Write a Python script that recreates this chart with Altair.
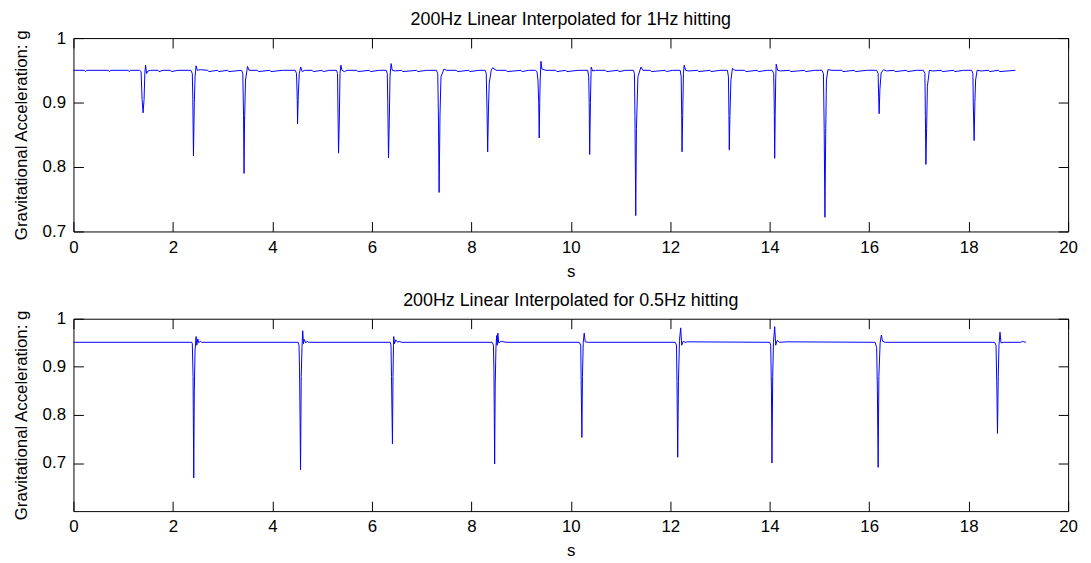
import altair as alt
import pandas as pd

# ---------------- data ----------------
title_top = "200Hz Linear Interpolated for 1Hz hitting"
title_bot = "200Hz Linear Interpolated for 0.5Hz hitting"
x_title = "s"
y_title = "Gravitational Acceleration: g"
x_ticks = [0, 2, 4, 6, 8, 10, 12, 14, 16, 18, 20]
y_ticks = [0.7, 0.8, 0.9, 1.0]

# top panel (1 Hz hitting)
t_top = [0.0, 0.22, 0.24, 0.27, 0.70, 0.72, 0.75, 1.10, 1.12, 1.15,
         1.33, 1.36, 1.38, 1.40, 1.42, 1.435, 1.45, 1.47, 1.50, 1.55, 1.70, 1.72, 1.80, 1.95, 1.97, 2.10,
         2.36, 2.39, 2.40, 2.413, 2.43, 2.445, 2.466, 2.49, 2.55, 2.70, 2.72, 2.90, 2.92, 3.10, 3.12,
         3.38, 3.405, 3.42, 3.43, 3.44, 3.46, 3.50, 3.53, 3.70, 3.72, 3.95, 3.97, 4.20,
         4.46, 4.485, 4.50, 4.506, 4.52, 4.54, 4.57, 4.60, 4.65, 4.80, 4.82, 5.00, 5.02, 5.15,
         5.29, 5.31, 5.32, 5.33, 5.345, 5.36, 5.377, 5.40, 5.45, 5.50, 5.70, 5.72, 5.95, 5.97, 6.15,
         6.29, 6.31, 6.32, 6.335, 6.35, 6.365, 6.387, 6.41, 6.47, 6.60, 6.62, 6.90, 6.92, 7.10,
         7.30, 7.325, 7.34, 7.352, 7.37, 7.39, 7.45, 7.50, 7.70, 7.72, 7.95, 7.97, 8.15,
         8.28, 8.30, 8.315, 8.329, 8.345, 8.36, 8.40, 8.43, 8.50, 8.70, 8.72, 9.00, 9.02, 9.15,
         9.29, 9.32, 9.34, 9.355, 9.365, 9.375, 9.385, 9.40, 9.42, 9.50, 9.70, 9.72, 9.90, 9.92, 10.15,
         10.34, 10.36, 10.37, 10.38, 10.395, 10.41, 10.44, 10.50, 10.70, 10.72, 10.95, 10.97, 11.10,
         11.26, 11.28, 11.29, 11.306, 11.32, 11.35, 11.41, 11.45, 11.60, 11.62, 11.90, 11.92, 12.05,
         12.20, 12.22, 12.23, 12.237, 12.25, 12.265, 12.28, 12.31, 12.37, 12.55, 12.57, 12.80, 12.82, 13.00,
         13.15, 13.17, 13.18, 13.187, 13.20, 13.22, 13.25, 13.30, 13.50, 13.52, 13.75, 13.77, 13.95,
         14.05, 14.08, 14.09, 14.10, 14.11, 14.12, 14.13, 14.16, 14.22, 14.40, 14.42, 14.70, 14.72, 14.90,
         15.05, 15.08, 15.095, 15.11, 15.125, 15.14, 15.17, 15.25, 15.45, 15.47, 15.70, 15.72, 15.95,
         16.15, 16.18, 16.19, 16.20, 16.215, 16.24, 16.29, 16.35, 16.50, 16.52, 16.75, 16.77, 16.95,
         17.09, 17.12, 17.13, 17.14, 17.155, 17.17, 17.21, 17.28, 17.45, 17.47, 17.70, 17.72, 17.90,
         18.06, 18.085, 18.095, 18.11, 18.125, 18.14, 18.17, 18.25, 18.40, 18.42, 18.60, 18.62, 18.94]
v_top = [0.950, 0.950, 0.948, 0.950, 0.950, 0.948, 0.950, 0.950, 0.948, 0.950,
         0.950, 0.948, 0.905, 0.884, 0.905, 0.945, 0.958, 0.945, 0.949, 0.950, 0.950, 0.948, 0.950, 0.950, 0.948, 0.950,
         0.950, 0.945, 0.905, 0.817, 0.900, 0.940, 0.957, 0.950, 0.951, 0.950, 0.948, 0.950, 0.948, 0.950, 0.948,
         0.950, 0.945, 0.880, 0.790, 0.870, 0.935, 0.956, 0.950, 0.950, 0.948, 0.950, 0.948, 0.950,
         0.950, 0.945, 0.905, 0.867, 0.910, 0.945, 0.955, 0.948, 0.950, 0.950, 0.948, 0.950, 0.948, 0.950,
         0.950, 0.945, 0.880, 0.8215, 0.870, 0.945, 0.958, 0.950, 0.948, 0.950, 0.950, 0.948, 0.950, 0.948, 0.950,
         0.950, 0.945, 0.900, 0.814, 0.870, 0.940, 0.9605, 0.950, 0.949, 0.950, 0.948, 0.950, 0.948, 0.950,
         0.950, 0.945, 0.870, 0.7605, 0.880, 0.940, 0.952, 0.950, 0.950, 0.948, 0.950, 0.948, 0.950,
         0.950, 0.945, 0.890, 0.8236, 0.890, 0.930, 0.950, 0.954, 0.950, 0.950, 0.948, 0.950, 0.948, 0.950,
         0.950, 0.948, 0.935, 0.900, 0.845, 0.900, 0.935, 0.964, 0.952, 0.950, 0.950, 0.948, 0.950, 0.948, 0.950,
         0.950, 0.940, 0.900, 0.8195, 0.900, 0.955, 0.949, 0.950, 0.950, 0.948, 0.950, 0.948, 0.950,
         0.950, 0.945, 0.880, 0.7246, 0.860, 0.940, 0.955, 0.950, 0.950, 0.948, 0.950, 0.948, 0.950,
         0.950, 0.940, 0.880, 0.8236, 0.880, 0.945, 0.958, 0.950, 0.949, 0.950, 0.948, 0.950, 0.948, 0.950,
         0.950, 0.940, 0.880, 0.8266, 0.880, 0.935, 0.953, 0.950, 0.950, 0.948, 0.950, 0.948, 0.950,
         0.950, 0.945, 0.900, 0.8134, 0.880, 0.935, 0.9595, 0.950, 0.949, 0.950, 0.948, 0.950, 0.948, 0.950,
         0.950, 0.945, 0.860, 0.722, 0.850, 0.935, 0.951, 0.950, 0.950, 0.948, 0.950, 0.948, 0.950,
         0.950, 0.945, 0.910, 0.8826, 0.920, 0.946, 0.951, 0.949, 0.950, 0.948, 0.950, 0.948, 0.950,
         0.950, 0.945, 0.880, 0.804, 0.860, 0.925, 0.950, 0.949, 0.950, 0.948, 0.950, 0.948, 0.950,
         0.950, 0.945, 0.890, 0.841, 0.900, 0.935, 0.950, 0.949, 0.950, 0.948, 0.950, 0.948, 0.950]

# bottom panel (0.5 Hz hitting)
t_bot = [0.0,
         2.38, 2.39, 2.405, 2.419, 2.43, 2.445, 2.466, 2.48, 2.50, 2.52, 2.55, 2.58,
         4.52, 4.535, 4.545, 4.556, 4.566, 4.58, 4.595, 4.61, 4.625, 4.64, 4.67, 4.70, 4.73,
         6.37, 6.385, 6.395, 6.414, 6.425, 6.435, 6.44, 6.455, 6.48, 6.52, 6.55, 6.60,
         8.42, 8.445, 8.455, 8.469, 8.48, 8.495, 8.51, 8.52, 8.534, 8.55, 8.60, 8.70,
         10.17, 10.20, 10.21, 10.223, 10.235, 10.25, 10.27, 10.29, 10.35,
         12.10, 12.125, 12.135, 12.15, 12.165, 12.185, 12.21, 12.23, 12.26, 12.30, 12.35,
         14.00, 14.02, 14.035, 14.045, 14.06, 14.075, 14.10, 14.12, 14.15, 14.20, 14.35,
         16.12, 16.15, 16.165, 16.18, 16.195, 16.22, 16.245, 16.27, 16.32,
         18.52, 18.55, 18.565, 18.58, 18.595, 18.61, 18.63, 18.65, 18.70,
         19.05, 19.08, 19.15]
v_bot = [0.951,
         0.951, 0.948, 0.880, 0.669, 0.850, 0.935, 0.963, 0.945, 0.958, 0.950, 0.953, 0.951,
         0.951, 0.945, 0.900, 0.800, 0.686, 0.880, 0.940, 0.975, 0.948, 0.957, 0.950, 0.953, 0.951,
         0.951, 0.945, 0.880, 0.740, 0.880, 0.945, 0.963, 0.948, 0.956, 0.951, 0.953, 0.951,
         0.951, 0.945, 0.890, 0.698, 0.860, 0.940, 0.965, 0.945, 0.970, 0.950, 0.953, 0.951,
         0.951, 0.945, 0.860, 0.7532, 0.880, 0.950, 0.970, 0.952, 0.951,
         0.951, 0.945, 0.870, 0.712, 0.870, 0.955, 0.981, 0.945, 0.953, 0.951, 0.952,
         0.951, 0.945, 0.850, 0.700, 0.880, 0.950, 0.9835, 0.945, 0.955, 0.951, 0.952,
         0.951, 0.940, 0.850, 0.691, 0.880, 0.950, 0.966, 0.953, 0.951,
         0.951, 0.945, 0.870, 0.7615, 0.880, 0.945, 0.972, 0.950, 0.951,
         0.951, 0.953, 0.951]

FONT = "Liberation Sans"
INWARD = {"expr": "-10"}


def panel(t, v, title, ydom, h):
    df = pd.DataFrame({"t": t, "v": v})
    base = alt.Chart(df)
    xs = alt.Scale(domain=[0, 20], nice=False, zero=False)
    ys = alt.Scale(domain=ydom, nice=False, zero=False)
    line = base.mark_line(color="#0000FF", strokeWidth=1).encode(
        x=alt.X("t:Q", scale=xs,
                axis=alt.Axis(values=x_ticks, format="d", title=x_title,
                              tickSize=INWARD, labelPadding=18, titlePadding=8)),
        y=alt.Y("v:Q", scale=ys,
                axis=alt.Axis(values=y_ticks, format="~g", title=y_title,
                              tickSize=INWARD, labelPadding=18, titlePadding=12)),
    )
    ghost = base.mark_line(opacity=0).encode(
        x=alt.X("t:Q", scale=xs,
                axis=alt.Axis(orient="top", values=x_ticks, labels=False,
                              title=None, tickSize=INWARD)),
        y=alt.Y("v:Q", scale=ys,
                axis=alt.Axis(orient="right", values=y_ticks, labels=False,
                              title=None, tickSize=INWARD)),
    )
    return (
        alt.layer(line, ghost)
        .resolve_axis(x="independent", y="independent")
        .properties(width=1003, height=h,
                    title=alt.TitleParams(title, offset=0))
    )


top = panel(t_top, v_top, title_top, [0.7, 1.0], 195)
bot = panel(t_bot, v_bot, title_bot, [0.6, 1.0], 194)

chart = (
    alt.vconcat(top, bot, spacing=11)
    .properties(padding={"left": 3, "top": 0, "right": 5, "bottom": 5},
                background="white")
    .configure_view(stroke="black", strokeWidth=1)
    .configure_axis(grid=False, domain=False, tickColor="black", tickWidth=1,
                    labelFont=FONT, labelFontSize=17, labelColor="black",
                    titleFont=FONT, titleFontSize=17, titleFontWeight="normal",
                    titleColor="black", labelFlush=False, labelOverlap=False)
    .configure_title(font=FONT, fontSize=18, fontWeight="normal", color="black")
)

chart.save("out.html", embed_options={"renderer": "svg", "actions": False})
